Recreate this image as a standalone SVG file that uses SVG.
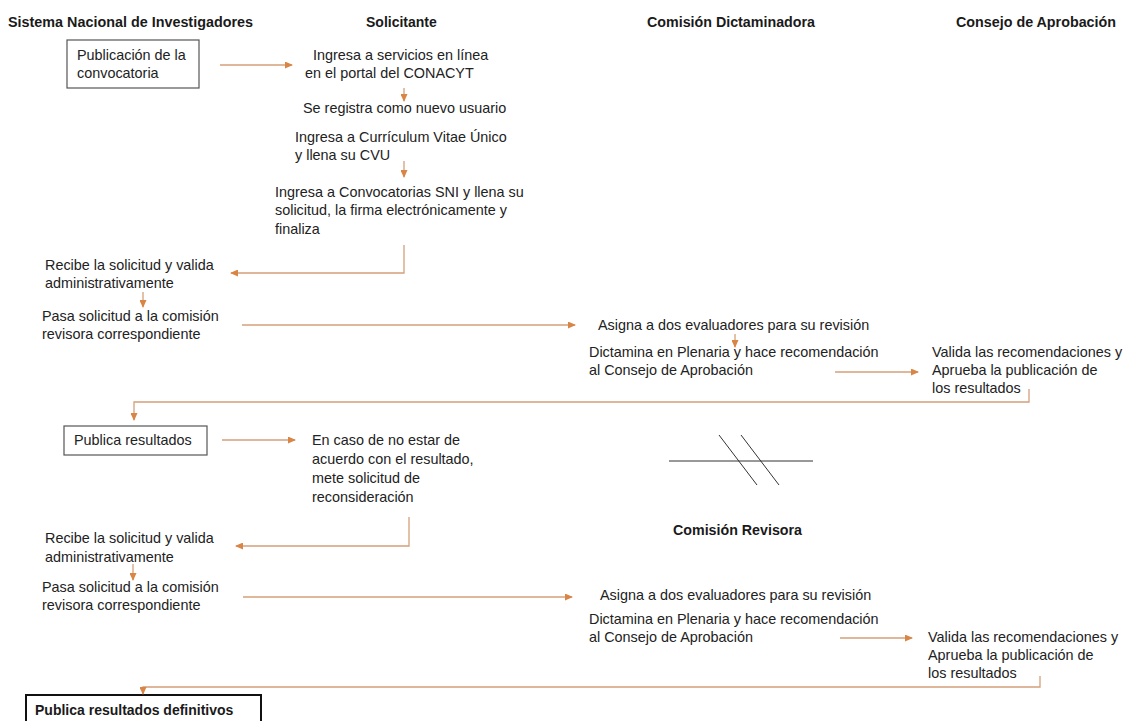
<svg xmlns="http://www.w3.org/2000/svg" width="1127" height="721" viewBox="0 0 1127 721">
<defs>
<marker id="ah" markerWidth="8" markerHeight="7" refX="7" refY="3.5" orient="auto" markerUnits="userSpaceOnUse">
<path d="M0,0 L8,3.5 L0,7 Z" fill="#D98545"/>
</marker>
<style>
.hd{font-family:"Liberation Sans",Arial,sans-serif;font-size:14px;font-weight:bold;fill:#1a1a1a}
.tx{font-family:"Liberation Sans",Arial,sans-serif;font-size:14.4px;fill:#222}
.bx{fill:#fff;stroke:#555;stroke-width:1.2}
.cn{fill:none;stroke:#D4A07A;stroke-width:1.3;marker-end:url(#ah)}
.sl{fill:none;stroke:#333;stroke-width:1}
</style>
</defs>
<rect width="1127" height="721" fill="#fff"/>

<g id="headers">
<text class="hd" x="8" y="27" textLength="245" lengthAdjust="spacingAndGlyphs">Sistema Nacional de Investigadores</text>
<text class="hd" x="366" y="27">Solicitante</text>
<text class="hd" x="647" y="27" textLength="168" lengthAdjust="spacingAndGlyphs">Comisión Dictaminadora</text>
<text class="hd" x="956" y="27" textLength="160" lengthAdjust="spacingAndGlyphs">Consejo de Aprobación</text>
<text class="hd" x="673" y="535" textLength="129" lengthAdjust="spacingAndGlyphs">Comisión Revisora</text>
</g>

<g id="n-publicacion">
<rect class="bx" x="67" y="40" width="132" height="48"/>
<text class="tx" x="77" y="60">Publicación de la</text>
<text class="tx" x="77" y="78">convocatoria</text>
</g>
<g id="n-ingresa-servicios">
<text class="tx" x="313" y="60">Ingresa a servicios en línea</text>
<text class="tx" x="305" y="78">en el portal del CONACYT</text>
</g>
<g id="n-registra">
<text class="tx" x="303" y="113">Se registra como nuevo usuario</text>
</g>
<g id="n-cvu">
<text class="tx" x="295" y="142">Ingresa a Currículum Vitae Único</text>
<text class="tx" x="295" y="160">y llena su CVU</text>
</g>
<g id="n-convocatorias">
<text class="tx" x="275" y="197">Ingresa a Convocatorias SNI y llena su</text>
<text class="tx" x="275" y="215">solicitud, la firma electrónicamente y</text>
<text class="tx" x="275" y="234">finaliza</text>
</g>
<g id="n-recibe1">
<text class="tx" x="45" y="270">Recibe la solicitud y valida</text>
<text class="tx" x="45" y="288">administrativamente</text>
</g>
<g id="n-pasa1">
<text class="tx" x="42" y="321">Pasa solicitud a la comisión</text>
<text class="tx" x="42" y="339">revisora correspondiente</text>
</g>
<g id="n-asigna1">
<text class="tx" x="598" y="330">Asigna a dos evaluadores para su revisión</text>
</g>
<g id="n-dictamina1">
<text class="tx" x="589" y="357">Dictamina en Plenaria y hace recomendación</text>
<text class="tx" x="589" y="375">al Consejo de Aprobación</text>
</g>
<g id="n-valida1">
<text class="tx" x="932" y="357">Valida las recomendaciones y</text>
<text class="tx" x="932" y="375">Aprueba la publicación de</text>
<text class="tx" x="932" y="393">los resultados</text>
</g>
<g id="n-publica">
<rect class="bx" x="64" y="426" width="143" height="29"/>
<text class="tx" x="74" y="445">Publica resultados</text>
</g>
<g id="n-encaso">
<text class="tx" x="312" y="445">En caso de no estar de</text>
<text class="tx" x="312" y="464">acuerdo con el resultado,</text>
<text class="tx" x="312" y="483">mete solicitud de</text>
<text class="tx" x="312" y="502">reconsideración</text>
</g>
<g id="n-break">
<line class="sl" x1="669" y1="461" x2="813" y2="461"/>
<line class="sl" x1="719" y1="435" x2="757" y2="485"/>
<line class="sl" x1="741" y1="435" x2="779" y2="485"/>
</g>
<g id="n-recibe2">
<text class="tx" x="45" y="543">Recibe la solicitud y valida</text>
<text class="tx" x="45" y="562">administrativamente</text>
</g>
<g id="n-pasa2">
<text class="tx" x="42" y="592">Pasa solicitud a la comisión</text>
<text class="tx" x="42" y="610">revisora correspondiente</text>
</g>
<g id="n-asigna2">
<text class="tx" x="600" y="600">Asigna a dos evaluadores para su revisión</text>
</g>
<g id="n-dictamina2">
<text class="tx" x="589" y="624">Dictamina en Plenaria y hace recomendación</text>
<text class="tx" x="589" y="642">al Consejo de Aprobación</text>
</g>
<g id="n-valida2">
<text class="tx" x="928" y="642">Valida las recomendaciones y</text>
<text class="tx" x="928" y="660">Aprueba la publicación de</text>
<text class="tx" x="928" y="678">los resultados</text>
</g>
<g id="n-definitivos">
<rect x="26" y="695" width="235" height="32" fill="#fff" stroke="#111" stroke-width="2"/>
<text class="hd" x="35" y="715">Publica resultados definitivos</text>
</g>

<g id="connectors">
<path class="cn" d="M220,65 H292"/>
<path class="cn" d="M404,88 V101"/>
<path class="cn" d="M404,161 V177"/>
<path class="cn" d="M404,245 V273 H231"/>
<path class="cn" d="M143,292 V307"/>
<path class="cn" d="M242,325 H575"/>
<path class="cn" d="M735,334 V347"/>
<path class="cn" d="M835,372 H918"/>
<path class="cn" d="M1029,389 V402 H134 V420"/>
<path class="cn" d="M222,440 H295"/>
<path class="cn" d="M409,517 V546 H236"/>
<path class="cn" d="M133,564 V580"/>
<path class="cn" d="M243,597 H572"/>
<path class="cn" d="M840,638 H912"/>
<path class="cn" d="M1040,676 V687 H143 V694"/>
</g>
</svg>
